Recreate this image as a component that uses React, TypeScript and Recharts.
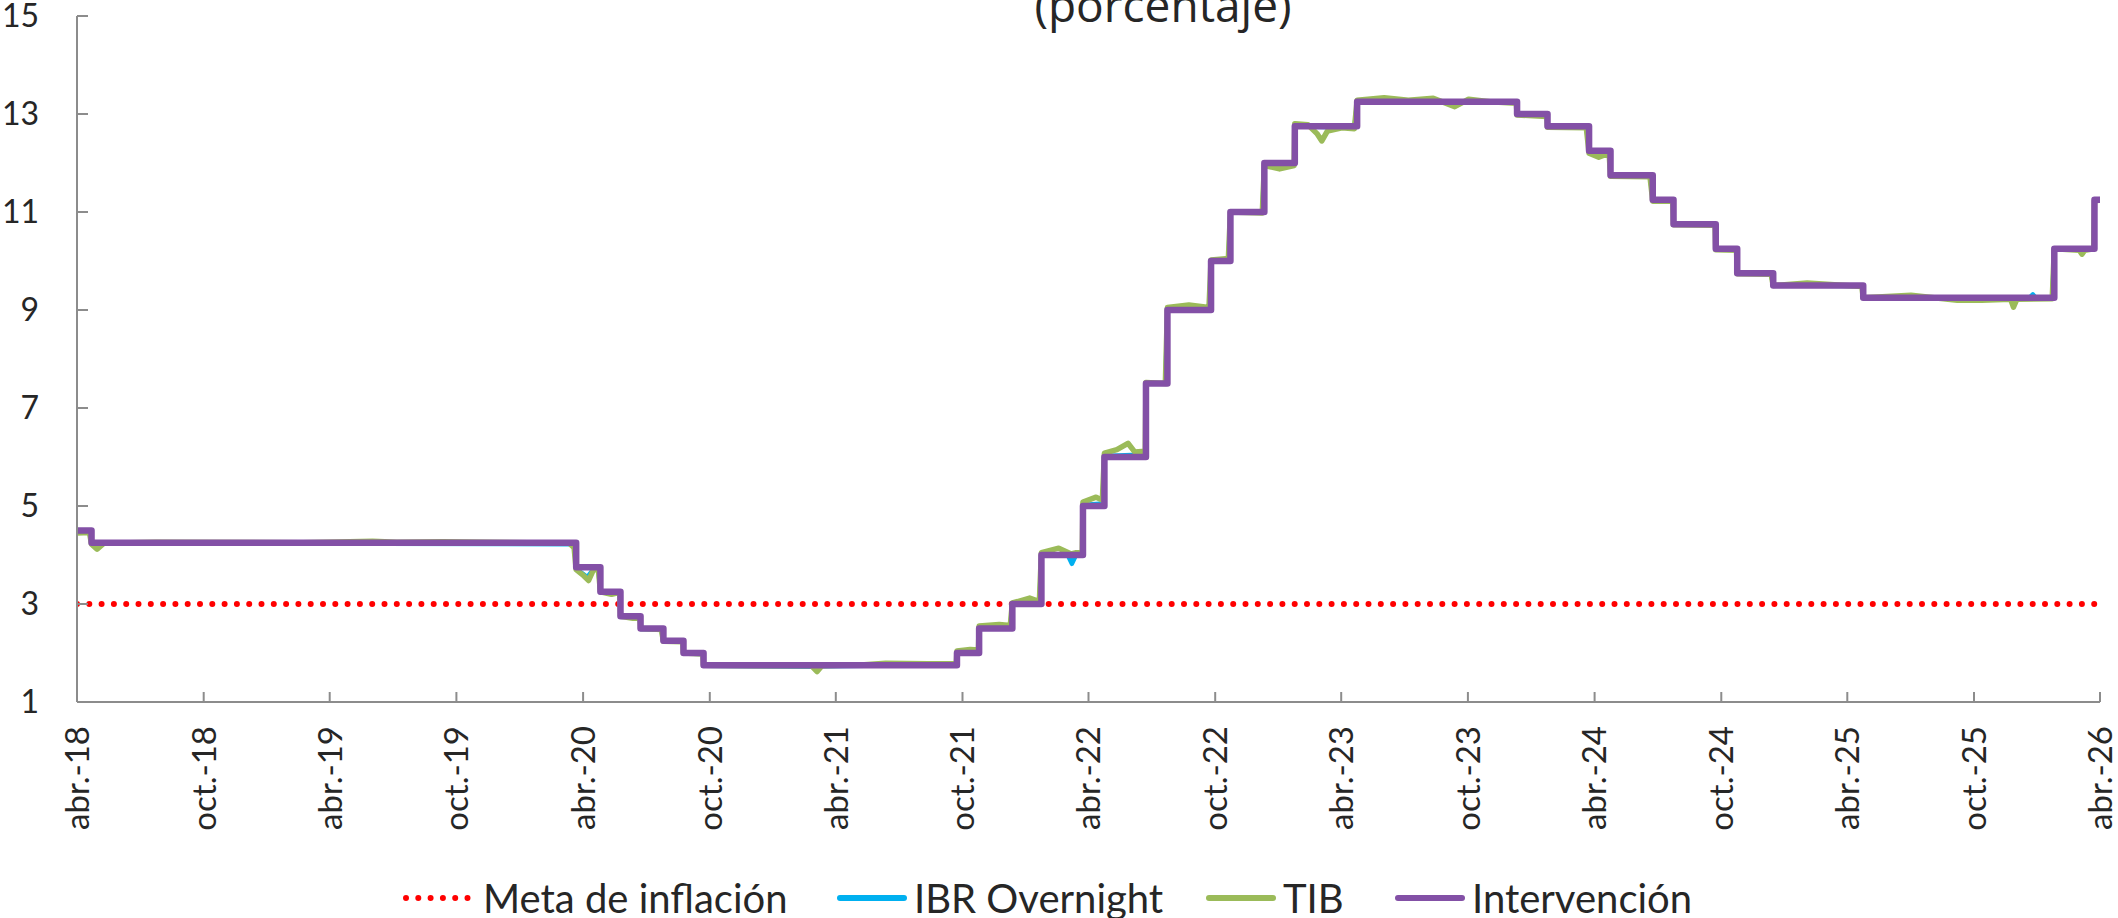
import React from 'react';
import { LineChart, Line, XAxis, YAxis, Legend } from 'recharts';

// ---------- data ----------
const tickDates = [
  '2018-04-09', '2018-10-09', '2019-04-09', '2019-10-09', '2020-04-09', '2020-10-09',
  '2021-04-09', '2021-10-09', '2022-04-09', '2022-10-09', '2023-04-09', '2023-10-09',
  '2024-04-09', '2024-10-09', '2025-04-09', '2025-10-09', '2026-04-09',
];
const tickLabels = [
  'abr.-18', 'oct.-18', 'abr.-19', 'oct.-19', 'abr.-20', 'oct.-20',
  'abr.-21', 'oct.-21', 'abr.-22', 'oct.-22', 'abr.-23', 'oct.-23',
  'abr.-24', 'oct.-24', 'abr.-25', 'oct.-25', 'abr.-26',
];
const yTicks = [1, 3, 5, 7, 9, 11, 13, 15];

const metaSeries: [string, number][] = [
  ['2018-04-09', 3],
  ['2026-04-08', 3],
];

// policy rate (step changes, effective dates)
const interventionSeries: [string, number][] = [
  ['2018-04-09', 4.5],
  ['2018-04-30', 4.25],
  ['2020-03-30', 3.75],
  ['2020-05-04', 3.25],
  ['2020-06-02', 2.75],
  ['2020-07-01', 2.5],
  ['2020-08-03', 2.25],
  ['2020-09-01', 2.0],
  ['2020-09-30', 1.75],
  ['2021-10-01', 2.0],
  ['2021-11-02', 2.5],
  ['2021-12-20', 3.0],
  ['2022-01-31', 4.0],
  ['2022-04-01', 5.0],
  ['2022-05-02', 6.0],
  ['2022-07-01', 7.5],
  ['2022-08-01', 9.0],
  ['2022-10-03', 10.0],
  ['2022-10-31', 11.0],
  ['2022-12-19', 12.0],
  ['2023-02-01', 12.75],
  ['2023-05-02', 13.25],
  ['2023-12-19', 13.0],
  ['2024-02-01', 12.75],
  ['2024-04-01', 12.25],
  ['2024-05-02', 11.75],
  ['2024-07-02', 11.25],
  ['2024-08-01', 10.75],
  ['2024-10-01', 10.25],
  ['2024-11-01', 9.75],
  ['2024-12-23', 9.5],
  ['2025-05-02', 9.25],
  ['2026-02-02', 10.25],
  ['2026-04-01', 11.25],
  ['2026-04-08', 11.25],
];

const tibSeries: [string, number][] = [
  ['2018-04-09', 4.45],
  ['2018-04-27', 4.46],
  ['2018-04-30', 4.22],
  ['2018-05-08', 4.12],
  ['2018-05-18', 4.24],
  ['2018-08-01', 4.26],
  ['2019-03-01', 4.25],
  ['2019-06-10', 4.28],
  ['2019-07-15', 4.26],
  ['2019-09-20', 4.27],
  ['2020-03-20', 4.24],
  ['2020-03-27', 4.15],
  ['2020-03-30', 3.7],
  ['2020-04-08', 3.6],
  ['2020-04-17', 3.48],
  ['2020-04-24', 3.7],
  ['2020-05-01', 3.72],
  ['2020-05-04', 3.25],
  ['2020-05-20', 3.2],
  ['2020-06-01', 3.24],
  ['2020-06-02', 2.75],
  ['2020-06-20', 2.71],
  ['2020-06-30', 2.74],
  ['2020-07-01', 2.5],
  ['2020-07-31', 2.48],
  ['2020-08-03', 2.24],
  ['2020-08-31', 2.23],
  ['2020-09-01', 2.0],
  ['2020-09-29', 1.98],
  ['2020-09-30', 1.75],
  ['2020-12-15', 1.74],
  ['2021-03-05', 1.74],
  ['2021-03-13', 1.62],
  ['2021-03-20', 1.74],
  ['2021-05-20', 1.76],
  ['2021-06-20', 1.79],
  ['2021-08-20', 1.78],
  ['2021-09-30', 1.78],
  ['2021-10-01', 2.04],
  ['2021-10-20', 2.07],
  ['2021-11-01', 2.06],
  ['2021-11-02', 2.55],
  ['2021-12-01', 2.58],
  ['2021-12-17', 2.56],
  ['2021-12-20', 3.02],
  ['2022-01-14', 3.12],
  ['2022-01-28', 3.05],
  ['2022-01-31', 4.05],
  ['2022-02-25', 4.14],
  ['2022-03-15', 4.02],
  ['2022-03-31', 4.08],
  ['2022-04-01', 5.08],
  ['2022-04-20', 5.18],
  ['2022-04-29', 5.12],
  ['2022-05-02', 6.08],
  ['2022-05-20', 6.15],
  ['2022-06-05', 6.28],
  ['2022-06-15', 6.1],
  ['2022-06-30', 6.12],
  ['2022-07-01', 7.52],
  ['2022-07-29', 7.5],
  ['2022-08-01', 9.05],
  ['2022-09-01', 9.1],
  ['2022-09-30', 9.05],
  ['2022-10-03', 10.02],
  ['2022-10-28', 10.05],
  ['2022-10-31', 11.0],
  ['2022-12-16', 10.98],
  ['2022-12-19', 11.95],
  ['2023-01-10', 11.88],
  ['2023-01-31', 11.95],
  ['2023-02-01', 12.8],
  ['2023-02-20', 12.78],
  ['2023-03-05', 12.6],
  ['2023-03-12', 12.45],
  ['2023-03-20', 12.65],
  ['2023-04-10', 12.72],
  ['2023-04-28', 12.7],
  ['2023-05-02', 13.28],
  ['2023-06-10', 13.33],
  ['2023-07-15', 13.28],
  ['2023-08-20', 13.32],
  ['2023-09-20', 13.15],
  ['2023-10-10', 13.3],
  ['2023-11-10', 13.25],
  ['2023-12-18', 13.22],
  ['2023-12-19', 12.98],
  ['2024-01-31', 12.95],
  ['2024-02-01', 12.73],
  ['2024-03-28', 12.72],
  ['2024-04-01', 12.2],
  ['2024-04-15', 12.12],
  ['2024-04-30', 12.2],
  ['2024-05-02', 11.73],
  ['2024-06-28', 11.72],
  ['2024-07-02', 11.22],
  ['2024-07-31', 11.22],
  ['2024-08-01', 10.74],
  ['2024-09-30', 10.73],
  ['2024-10-01', 10.23],
  ['2024-10-31', 10.22],
  ['2024-11-01', 9.74],
  ['2024-12-20', 9.73],
  ['2024-12-23', 9.5],
  ['2025-02-10', 9.55],
  ['2025-04-30', 9.48],
  ['2025-05-02', 9.25],
  ['2025-07-10', 9.3],
  ['2025-09-15', 9.2],
  ['2025-10-20', 9.2],
  ['2025-12-01', 9.22],
  ['2025-12-05', 9.06],
  ['2025-12-10', 9.22],
  ['2026-01-30', 9.23],
  ['2026-02-02', 10.25],
  ['2026-03-10', 10.22],
  ['2026-03-14', 10.14],
  ['2026-03-18', 10.22],
  ['2026-03-31', 10.25],
  ['2026-04-01', 11.23],
  ['2026-04-08', 11.24],
];

const ibrSeries: [string, number][] = [
  ['2018-04-09', 4.47],
  ['2018-04-27', 4.47],
  ['2018-04-30', 4.23],
  ['2018-05-08', 4.18],
  ['2018-05-15', 4.24],
  ['2020-03-27', 4.22],
  ['2020-03-30', 3.72],
  ['2020-04-15', 3.55],
  ['2020-04-24', 3.71],
  ['2020-05-01', 3.72],
  ['2020-05-04', 3.24],
  ['2020-06-01', 3.23],
  ['2020-06-02', 2.74],
  ['2020-06-30', 2.73],
  ['2020-07-01', 2.49],
  ['2020-07-31', 2.48],
  ['2020-08-03', 2.24],
  ['2020-08-31', 2.23],
  ['2020-09-01', 1.99],
  ['2020-09-29', 1.98],
  ['2020-09-30', 1.74],
  ['2021-03-10', 1.72],
  ['2021-03-13', 1.66],
  ['2021-03-18', 1.73],
  ['2021-09-30', 1.76],
  ['2021-10-01', 2.01],
  ['2021-11-01', 2.02],
  ['2021-11-02', 2.51],
  ['2021-12-17', 2.53],
  ['2021-12-20', 3.0],
  ['2022-01-28', 3.03],
  ['2022-01-31', 4.0],
  ['2022-03-10', 4.0],
  ['2022-03-16', 3.82],
  ['2022-03-22', 4.0],
  ['2022-03-31', 4.02],
  ['2022-04-01', 5.02],
  ['2022-04-29', 5.05],
  ['2022-05-02', 6.02],
  ['2022-06-30', 6.05],
  ['2022-07-01', 7.5],
  ['2022-07-29', 7.5],
  ['2022-08-01', 9.0],
  ['2022-09-30', 9.02],
  ['2022-10-03', 10.0],
  ['2022-10-28', 10.0],
  ['2022-10-31', 11.0],
  ['2022-12-16', 11.0],
  ['2022-12-19', 11.98],
  ['2023-01-31', 11.98],
  ['2023-02-01', 12.75],
  ['2023-04-28', 12.72],
  ['2023-05-02', 13.25],
  ['2023-12-18', 13.25],
  ['2023-12-19', 13.0],
  ['2024-01-31', 12.98],
  ['2024-02-01', 12.75],
  ['2024-03-28', 12.74],
  ['2024-04-01', 12.25],
  ['2024-04-30', 12.24],
  ['2024-05-02', 11.75],
  ['2024-06-28', 11.74],
  ['2024-07-02', 11.25],
  ['2024-07-31', 11.24],
  ['2024-08-01', 10.75],
  ['2024-09-30', 10.74],
  ['2024-10-01', 10.25],
  ['2024-10-31', 10.24],
  ['2024-11-01', 9.75],
  ['2024-12-20', 9.74],
  ['2024-12-23', 9.5],
  ['2025-04-30', 9.49],
  ['2025-05-02', 9.25],
  ['2025-12-28', 9.25],
  ['2026-01-02', 9.32],
  ['2026-01-06', 9.25],
  ['2026-01-30', 9.25],
  ['2026-02-02', 10.25],
  ['2026-03-31', 10.26],
  ['2026-04-01', 11.25],
  ['2026-04-08', 11.25],
];

// ---------- helpers ----------
const day = (s: string) => {
  const [y, m, d] = s.split('-').map(Number);
  return Date.UTC(y, m - 1, d) / 86400000;
};
const toPoints = (arr: [string, number][]) => arr.map(([d, v]) => ({ t: day(d), v }));

const tickValues = tickDates.map(day);
const domainX: [number, number] = [tickValues[0], tickValues[tickValues.length - 1]];

const FONT = 'Lato, "Noto Sans", sans-serif';
const TEXT = '#262626';
const AXIS = '#8c8c8c';

const COLORS = {
  meta: '#FF0000',
  ibr: '#00B0F0',
  tib: '#9BBB59',
  int: '#8350A6',
};

const XTick = (props: any) => {
  const { x, y, payload } = props;
  const idx = tickValues.indexOf(payload.value);
  const label = idx >= 0 ? tickLabels[idx] : '';
  return (
    <text
      x={x}
      y={y}
      transform={`rotate(-90 ${x} ${y})`}
      textAnchor="end"
      dy="0.36em"
      fontSize={33}
      fontFamily={FONT}
      fill={TEXT}
    >
      {label}
    </text>
  );
};

const legendLayout = [
  { name: 'Meta de inflación', color: COLORS.meta, dash: '0 12.3', width: 6, left: 403 },
  { name: 'IBR Overnight', color: COLORS.ibr, dash: undefined, width: 6, left: 837 },
  { name: 'TIB', color: COLORS.tib, dash: undefined, width: 6, left: 1206 },
  { name: 'Intervención', color: COLORS.int, dash: undefined, width: 6, left: 1395 },
];

const LegendContent = () => (
  <div style={{ position: 'relative', height: 58, width: 2100 }}>
    {legendLayout.map((it) => (
      <div
        key={it.name}
        style={{
          position: 'absolute',
          left: it.left,
          top: 21,
          height: 34,
          display: 'flex',
          alignItems: 'center',
        }}
      >
        <svg width={70} height={12} style={{ display: 'block' }}>
          <line
            x1={3}
            y1={6}
            x2={it.dash ? 66 : 67}
            y2={6}
            stroke={it.color}
            strokeWidth={it.width}
            strokeLinecap="round"
            strokeDasharray={it.dash}
          />
        </svg>
        <span
          style={{
            marginLeft: it.dash ? 10 : 7,
            fontSize: 40,
            fontFamily: FONT,
            color: TEXT,
            lineHeight: '34px',
            whiteSpace: 'nowrap',
          }}
        >
          {it.name}
        </span>
      </div>
    ))}
  </div>
);

export default function App() {
  return (
    <div style={{ position: 'absolute', left: 0, top: 0, width: 2118, height: 918, background: '#fff' }}>
      <LineChart width={2118} height={918} margin={{ top: 16, right: 18, left: 0, bottom: 0 }}>
        <XAxis
          dataKey="t"
          type="number"
          domain={domainX}
          ticks={tickValues}
          interval={0}
          allowDataOverflow
          height={158}
          tick={<XTick />}
          tickSize={-10}
          tickMargin={34}
          axisLine={{ stroke: AXIS, strokeWidth: 2 }}
          tickLine={{ stroke: AXIS, strokeWidth: 2 }}
        />
        <YAxis
          type="number"
          domain={[1, 15]}
          ticks={yTicks}
          interval={0}
          width={77}
          tickSize={-11}
          tickMargin={49}
          tick={{ fontSize: 32, fontFamily: FONT, fill: TEXT }}
          axisLine={{ stroke: AXIS, strokeWidth: 2 }}
          tickLine={{ stroke: AXIS, strokeWidth: 2 }}
        />
        <Legend verticalAlign="bottom" content={<LegendContent />} />
        <Line
          data={toPoints(metaSeries)}
          dataKey="v"
          name="Meta de inflación"
          type="linear"
          stroke={COLORS.meta}
          strokeWidth={6}
          strokeDasharray="0 12.3"
          strokeLinecap="round"
          dot={false}
          activeDot={false}
          isAnimationActive={false}
        />
        <Line
          data={toPoints(ibrSeries)}
          dataKey="v"
          name="IBR Overnight"
          type="linear"
          stroke={COLORS.ibr}
          strokeWidth={4.5}
          strokeLinejoin="round"
          dot={false}
          activeDot={false}
          isAnimationActive={false}
        />
        <Line
          data={toPoints(tibSeries)}
          dataKey="v"
          name="TIB"
          type="linear"
          stroke={COLORS.tib}
          strokeWidth={5.5}
          strokeLinejoin="round"
          dot={false}
          activeDot={false}
          isAnimationActive={false}
        />
        <Line
          data={toPoints(interventionSeries)}
          dataKey="v"
          name="Intervención"
          type="stepAfter"
          stroke={COLORS.int}
          strokeWidth={6.5}
          strokeLinejoin="round"
          strokeLinecap="round"
          dot={false}
          activeDot={false}
          isAnimationActive={false}
        />
      </LineChart>
      <svg
        width={2118}
        height={60}
        style={{ position: 'absolute', left: 0, top: 0, pointerEvents: 'none' }}
      >
        <text
          x={1163}
          y={22}
          textAnchor="middle"
          fontSize={46}
          fontFamily='"Open Sans", "Noto Sans", sans-serif'
          fill={TEXT}
        >
          (porcentaje)
        </text>
      </svg>
    </div>
  );
}
